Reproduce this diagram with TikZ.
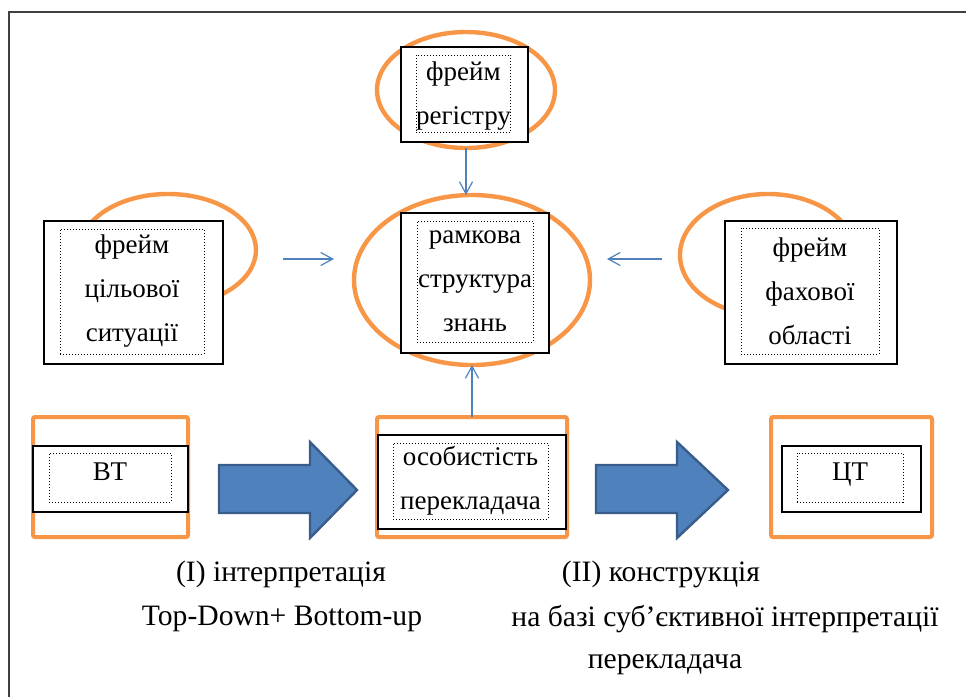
\documentclass[tikz,border=0pt]{standalone}
\usepackage{fontspec}
\setmainfont{Liberation Serif}
\usetikzlibrary{shapes.geometric,arrows.meta}
\definecolor{frameorange}{HTML}{F79646}
\definecolor{linkblue}{HTML}{4F81BD}
\definecolor{arrowfill}{HTML}{4F81BD}
\definecolor{arrowedge}{HTML}{385D8A}

\begin{document}
\begin{tikzpicture}[x=0.5pt,y=-0.5pt,
  oval/.style={ellipse,draw=frameorange,line width=2.2pt,inner sep=0pt,outer sep=0pt},
  outer/.style={draw,fill=white,line width=0.8pt,inner sep=0pt,outer sep=0pt},
  inner/.style={draw,densely dotted,line width=0.5pt,inner sep=0pt,align=center,
    font=\fontsize{13.5}{22}\selectfont},
  orangebox/.style={draw=frameorange,line width=2pt,rounded corners=1pt,inner sep=0pt,outer sep=0pt},
  link/.style={draw=linkblue,line width=0.6pt,-{Straight Barb[length=6pt,width=6.5pt]}},
  fatarrow/.style={fill=arrowfill,draw=arrowedge,line width=1.2pt,line join=miter},
  caption/.style={font=\fontsize{14.8}{18}\selectfont,inner sep=0pt}]

\useasboundingbox (0,0) rectangle (966,697);
\draw[line width=1pt,black!75] (9,697) -- (9,12) -- (966,12);

% orange ovals behind the frames
\node[oval,minimum width=89pt,minimum height=58pt] (regEll) at (466,90) {};
\node[oval,minimum width=118pt,minimum height=85pt] (centEll) at (472,280) {};
\node[oval,minimum width=88pt,minimum height=56pt] (goalEll) at (168,250) {};
\node[oval,minimum width=88pt,minimum height=61pt] (fieldEll) at (768,255) {};

% frames
\node[outer,minimum width=63.5pt,minimum height=47.5pt] (regBox) at (464.5,94.5) {};
\node[inner,minimum width=46.5pt,minimum height=38.5pt] (regTxt) at (463.5,93.5) {\rule{0pt}{12pt}фрейм\\регістру};

\node[outer,minimum width=74pt,minimum height=70pt] (centBox) at (475,283) {};
\node[inner,minimum width=58pt,minimum height=60.5pt] (centTxt) at (475,281.5) {рамкова\\структура\\знань};

\node[outer,minimum width=89.5pt,minimum height=71.5pt] (goalBox) at (133.5,292.5) {};
\node[inner,minimum width=72pt,minimum height=62.5pt] (goalTxt) at (132,291.5) {фрейм\\цільової\\ситуації};

\node[outer,minimum width=86pt,minimum height=71.5pt] (fieldBox) at (811,292.5) {};
\node[inner,minimum width=69pt,minimum height=63pt] (fieldTxt) at (810,291) {фрейм\\фахової\\області};

% bottom row
\node[orangebox,minimum width=77.5pt,minimum height=60pt] (stFrame) at (110.5,477) {};
\node[outer,minimum width=77.5pt,minimum height=33pt] (stBox) at (110.5,479) {};
\node[inner,minimum width=61pt,minimum height=24.5pt,text depth=6pt] (stTxt) at (110,477.5) {ВТ};

\node[orangebox,minimum width=95pt,minimum height=60pt] (persFrame) at (472,477) {};
\node[outer,minimum width=94pt,minimum height=47pt] (persBox) at (472,482) {};
\node[inner,minimum width=77.5pt,minimum height=38pt] (persTxt) at (470.5,481) {особистість\\перекладача};

\node[orangebox,minimum width=80.5pt,minimum height=60pt] (ttFrame) at (851.5,477) {};
\node[outer,minimum width=69.5pt,minimum height=33pt] (ttBox) at (851.5,479) {};
\node[inner,minimum width=53pt,minimum height=24.5pt,text depth=6pt] (ttTxt) at (850,477.5) {ЦТ};

% thin arrows
\coordinate (goalTail) at (283,259);
\coordinate (goalTip) at (334,259);
\coordinate (fieldTail) at (662,259);
\coordinate (fieldTip) at (607,259);
\draw[link] (regEll.south) -- (regEll.south |- centEll.north);
\draw[link] (persFrame.north) -- (persFrame.north |- centEll.south);
\draw[link] (goalTail) -- (goalTip);
\draw[link] (fieldTail) -- (fieldTip);

% block arrows
\foreach \xs/\xh/\xt in {219/310/357, 596/677/728}
  \draw[fatarrow] (\xs,465) -- (\xh,465) -- (\xh,442) -- (\xt,490) -- (\xh,538) -- (\xh,513) -- (\xs,513) -- cycle;

% captions
\node[caption] (stepOne) at (281,574) {(I) інтерпретація};
\node[caption] (stepOneWay) at (282,619) {Top-Down+ Bottom-up};
\node[caption] (stepTwo) at (661,574) {(II) конструкція};
\node[caption] (stepTwoWay) at (725,619) {на базі суб’єктивної інтерпретації};
\node[caption] (stepTwoWho) at (665,665) {перекладача};
\end{tikzpicture}
\end{document}
